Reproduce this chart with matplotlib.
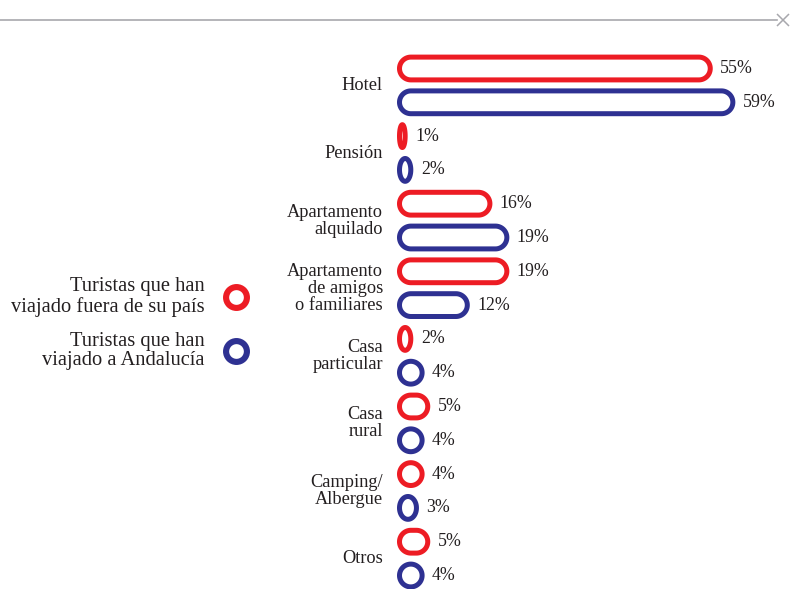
import numpy as np
import matplotlib
matplotlib.use("Agg")
import matplotlib.pyplot as plt
from matplotlib.patches import Polygon
from matplotlib.lines import Line2D

plt.rcParams['font.family'] = ['Liberation Serif', 'DejaVu Serif']

categories = ["Hotel", "Pensión", "Apartamento\nalquilado",
              "Apartamento\nde amigos\no familiares", "Casa\nparticular",
              "Casa\nrural", "Camping/\nAlbergue", "Otros"]
fuera = [55, 1, 16, 19, 2, 5, 4, 5]
andalucia = [59, 2, 19, 12, 4, 4, 3, 4]
legend_labels = ["Turistas que han\nviajado fuera de su país",
                 "Turistas que han\nviajado a Andalucía"]

RED = "#ed1c24"
BLUE = "#2e3192"
TXT = "#231f20"

W, H = 791, 589
fig = plt.figure(figsize=(W / 100, H / 100), dpi=100)
# axes: 1% = 5.65 px, one row = 33.8 px
ax = fig.add_axes([399.5 / W, 0, 339 / W, (H - 40) / H])
ax.set_xlim(0, 60)
ax.set_ylim((589 - 68.5) / 33.8, (40 - 68.5) / 33.8)
ax.axis("off")

ry = 11.4 / 33.8   # half bar height in rows
rmax = 11.4 / 5.65  # max corner radius in %
lw = 3.6


def pill(w, yc, color):
    rx = min(w / 2, rmax)
    t1 = np.linspace(-np.pi / 2, np.pi / 2, 40)
    t2 = np.linspace(np.pi / 2, 3 * np.pi / 2, 40)
    xs = np.concatenate([w - rx + rx * np.cos(t1), rx + rx * np.cos(t2)])
    ys = np.concatenate([yc + ry * np.sin(t1), yc + ry * np.sin(t2)])
    ax.add_patch(Polygon(np.column_stack([xs, ys]), closed=True, fill=False,
                         edgecolor=color, linewidth=lw, joinstyle="round",
                         clip_on=False))


for i, cat in enumerate(categories):
    yr, yb = 2 * i, 2 * i + 1
    for v, y, c in [(fuera[i], yr, RED), (andalucia[i], yb, BLUE)]:
        pill(v, y, c)
        ax.annotate(f"{v}%", xy=(v, y), xytext=(7.2, 0),
                    textcoords="offset points", ha="left", va="center",
                    fontsize=12.8, color=TXT, annotation_clip=False)
    ax.annotate(cat, xy=(0, 2 * i + 0.5), xytext=(-11.9, 0),
                textcoords="offset points", ha="right", va="center",
                fontsize=13.2, color=TXT, linespacing=1.0,
                annotation_clip=False)

# legend
for lab, yp, c in zip(legend_labels, [297, 351], [RED, BLUE]):
    fig.text(205 / W, 1 - yp / H, lab, ha="right", va="center",
             fontsize=14.8, color=TXT, linespacing=1.06)
    fig.add_artist(Line2D([236 / W], [1 - yp / H], marker="o", ms=15,
                          mew=4.4, mec=c, mfc="white",
                          transform=fig.transFigure))

# top rule with close mark
fig.add_artist(Line2D([0, 777 / W], [1 - 20 / H, 1 - 20 / H], color="#a8a8ad",
                      lw=1.2, transform=fig.transFigure))
fig.add_artist(Line2D([783 / W], [1 - 20 / H], marker="x", ms=9, mew=1.1,
                      color="#a8a8ad", transform=fig.transFigure))

fig.savefig("out.png", dpi=100)
